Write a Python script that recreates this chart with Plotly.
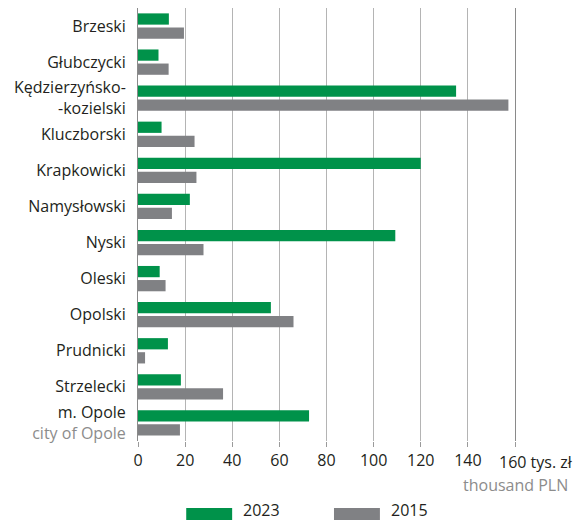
import plotly.graph_objects as go

categories = ["Brzeski", "Głubczycki", "Kędzierzyńsko-<br>-kozielski", "Kluczborski",
              "Krapkowicki", "Namysłowski", "Nyski", "Oleski", "Opolski",
              "Prudnicki", "Strzelecki",
              "m. Opole<br><span style='color:#8c8c8c'>city of Opole</span>"]
values_2023 = [13.1, 8.7, 135.0, 10.0, 120.0, 22.0, 109.2, 9.2, 56.4, 12.7, 18.2, 72.6]
values_2015 = [19.5, 13.0, 157.2, 24.0, 24.8, 14.4, 27.8, 11.7, 66.0, 3.0, 36.1, 17.8]
x_ticks = [0, 20, 40, 60, 80, 100, 120, 140, 160]
x_ticktext = ["0", "20", "40", "60", "80", "100", "120", "140", ""]
last_tick_label = "160 tys. zł"
unit_en = "thousand PLN"

GREEN = "#00924a"
GRAY = "#808184"
TEXT = "#231f20"
FONT = "Open Sans"

idx = list(range(len(categories)))

fig = go.Figure()
fig.add_trace(go.Bar(y=idx, x=values_2023, orientation="h", name="2023",
                     marker=dict(color=GREEN, line=dict(width=0))))
fig.add_trace(go.Bar(y=idx, x=values_2015, orientation="h", name="2015",
                     marker=dict(color=GRAY, line=dict(width=0))))

W, H = 574, 520
L, R, T, B = 137.7, 58.7, 8, 79

fig.update_layout(
    width=W, height=H,
    margin=dict(l=L, r=R, t=T, b=B),
    barmode="group", bargap=0.22, bargroupgap=0.2,
    plot_bgcolor="white", paper_bgcolor="white",
    showlegend=False,
    font=dict(family=FONT, size=16, color=TEXT),
    xaxis=dict(range=[0, 160], tickvals=x_ticks, ticktext=x_ticktext,
               showgrid=True, gridcolor="#b4b4b4", gridwidth=1,
               zeroline=False, ticks="outside", ticklen=5, tickcolor="#9a9a9a",
               tickfont=dict(size=16, color=TEXT), fixedrange=True),
    yaxis=dict(range=[11.5, -0.5], tickvals=idx, ticktext=categories,
               showgrid=False, zeroline=False, showline=True, mirror=True,
               linecolor="#8a8a8a", linewidth=1, ticks="outside", ticklen=8,
               tickcolor="rgba(0,0,0,0)", tickfont=dict(size=16, color=TEXT),
               fixedrange=True),
)

def px_x(p):
    return (p - L) / (W - L - R)

def px_y(p):
    return (H - B - p) / (H - T - B)

# last tick label with unit, and English unit
fig.add_annotation(xref="paper", yref="paper", x=px_x(497), y=px_y(462),
                   text=last_tick_label, showarrow=False, xanchor="left", yanchor="middle",
                   font=dict(size=16, color=TEXT))
fig.add_annotation(xref="paper", yref="paper", x=px_x(570), y=px_y(485),
                   text=unit_en, showarrow=False, xanchor="right", yanchor="middle",
                   font=dict(size=16, color="#8c8c8c"))

# legend drawn manually
for x0, x1, col, label, tx in [(186, 232, GREEN, "2023", 241), (334, 380, GRAY, "2015", 389)]:
    fig.add_shape(type="rect", xref="paper", yref="paper",
                  x0=px_x(x0), x1=px_x(x1), y0=px_y(508), y1=px_y(528),
                  fillcolor=col, line=dict(width=0))
    fig.add_annotation(xref="paper", yref="paper", x=px_x(tx), y=px_y(510),
                       text=label, showarrow=False, xanchor="left", yanchor="middle",
                       font=dict(size=16, color=TEXT))

fig.write_html("out.html", config={"displayModeBar": False},
               post_script="document.body.style.margin='0';document.body.style.overflow='hidden';")
